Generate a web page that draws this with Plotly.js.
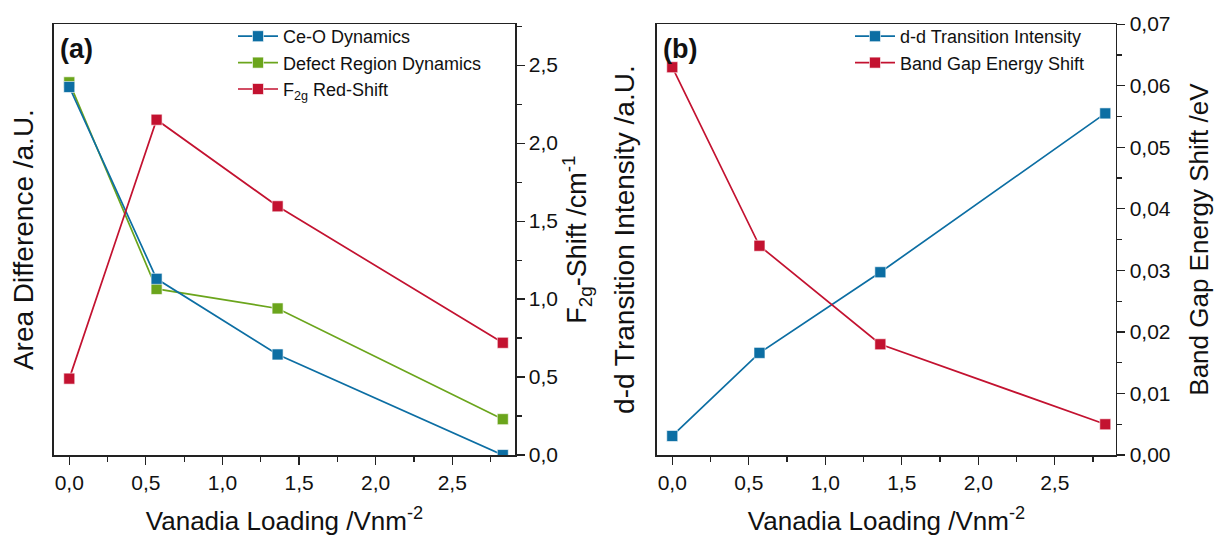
<!DOCTYPE html>
<html>
<head>
<meta charset="utf-8">
<script src="https://cdn.plot.ly/plotly-3.0.1.min.js"></script>
<style>html,body{margin:0;padding:0;background:#fff;}#chart{width:1215px;height:536px;}</style>
</head>
<body>
<div id="chart"></div>
<script>
// Data
const loading = [0, 0.57, 1.36, 2.83];
const ceoDynamics = [2.36, 1.13, 0.645, 0.0];
const defectDynamics = [2.39, 1.065, 0.94, 0.23];
const f2gShift = [0.49, 2.15, 1.595, 0.72];
const ddIntensity = [0.0031, 0.0166, 0.0297, 0.0555];
const bandGapShift = [0.063, 0.034, 0.018, 0.005];

const seriesNames = {
  ceo: 'Ce-O Dynamics',
  defect: 'Defect Region Dynamics',
  f2g: 'F<sub>2g</sub> Red-Shift',
  dd: 'd-d Transition Intensity',
  bg: 'Band Gap Energy Shift'
};

const BLUE = '#0C6EA3', GREEN = '#6BA51C', RED = '#C31230';
const FONT = 'Liberation Sans, Arial, sans-serif';

function tr(x, y, name, color, xa, ya, legend, rank) {
  return {
    x: x, y: y, name: name, type: 'scatter', mode: 'lines+markers',
    xaxis: xa, yaxis: ya, legend: legend, legendrank: rank,
    line: {color: color, width: 1.7},
    marker: {symbol: 'square', size: 11, color: color, line: {color: 'rgba(255,255,255,0.6)', width: 1}}
  };
}

const data = [
  tr(loading, defectDynamics, seriesNames.defect, GREEN, 'x', 'y', 'legend', 2),
  tr(loading, ceoDynamics, seriesNames.ceo, BLUE, 'x', 'y', 'legend', 1),
  tr(loading, f2gShift, seriesNames.f2g, RED, 'x', 'y2', 'legend', 3),
  tr(loading, ddIntensity, seriesNames.dd, BLUE, 'x2', 'y3', 'legend2', 1),
  tr(loading, bandGapShift, seriesNames.bg, RED, 'x2', 'y4', 'legend2', 2)
];

const tickFont = {family: FONT, size: 21, color: '#111'};
const xTitleFont = {family: FONT, size: 26, color: '#111'};
const yTitleFont = {family: FONT, size: 27, color: '#111'};

const xBase = {
  showline: true, linecolor: '#222', linewidth: 1.5, mirror: true,
  ticks: 'outside', ticklen: 8, tickwidth: 1.2, tickcolor: '#222',
  dtick: 0.5, tick0: 0, tickformat: '.1f',
  minor: {ticks: 'outside', ticklen: 5, dtick: 0.25, tick0: 0, tickcolor: '#222', tickwidth: 1.2},
  showgrid: false, zeroline: false, tickfont: tickFont,
  title: {text: 'Vanadia Loading /Vnm<sup>-2</sup>', font: xTitleFont, standoff: 20}
};

const rBase = {
  showline: true, linecolor: '#222', linewidth: 1.5,
  ticks: 'outside', ticklen: 8, tickwidth: 1.2, tickcolor: '#222',
  showgrid: false, zeroline: false, tickfont: tickFont
};

const layout = {
  width: 1215, height: 536,
  margin: {l: 0, r: 0, t: 0, b: 0},
  paper_bgcolor: '#fff', plot_bgcolor: '#fff',
  separators: ',.',
  font: {family: FONT, color: '#111'},
  xaxis: Object.assign({}, xBase, {domain: [0.0444, 0.4239], range: [-0.1, 2.91], anchor: 'y'}),
  xaxis2: Object.assign({}, xBase, {domain: [0.5407, 0.9185], range: [-0.1, 2.9], anchor: 'y3'}),
  yaxis: {
    domain: [0.151, 0.955], range: [0, 2.763], anchor: 'x',
    showline: true, linecolor: '#222', linewidth: 1.5,
    showticklabels: false, ticks: '', showgrid: false, zeroline: false,
    title: {text: 'Area Difference /a.U.', font: {family: FONT, size: 28, color: '#111'}, standoff: 10}
  },
  yaxis2: Object.assign({}, rBase, {
    domain: [0.151, 0.955], range: [0, 2.763], overlaying: 'y', side: 'right', anchor: 'x',
    dtick: 0.5, tick0: 0, tickformat: '.1f',
    minor: {ticks: 'outside', ticklen: 5, dtick: 0.25, tick0: 0, tickcolor: '#222', tickwidth: 1.2},
    title: {text: 'F<sub>2g</sub>-Shift /cm<sup>-1</sup>', font: yTitleFont, standoff: 6}
  }),
  yaxis3: {
    domain: [0.151, 0.955], range: [0, 0.07], anchor: 'x2',
    showline: true, linecolor: '#222', linewidth: 1.5,
    showticklabels: false, ticks: '', showgrid: false, zeroline: false,
    title: {text: 'd-d Transition Intensity /a.U.', font: {family: FONT, size: 28, color: '#111'}, standoff: 12}
  },
  yaxis4: Object.assign({}, rBase, {
    domain: [0.151, 0.955], range: [0, 0.07], overlaying: 'y3', side: 'right', anchor: 'x2',
    dtick: 0.01, tick0: 0, tickformat: '.2f',
    minor: {ticks: 'outside', ticklen: 5, dtick: 0.005, tick0: 0, tickcolor: '#222', tickwidth: 1.2},
    title: {text: 'Band Gap Energy Shift /eV', font: {family: FONT, size: 26, color: '#111'}, standoff: 20}
  }),
  legend: {
    x: 233 / 1215, y: 0.9664, xanchor: 'left', yanchor: 'top',
    bgcolor: 'rgba(0,0,0,0)', font: {family: FONT, size: 18, color: '#111'},
    tracegroupgap: 0, itemwidth: 40, traceorder: 'normal'
  },
  legend2: {
    x: 850 / 1215, y: 0.9664, xanchor: 'left', yanchor: 'top',
    bgcolor: 'rgba(0,0,0,0)', font: {family: FONT, size: 18, color: '#111'},
    tracegroupgap: 0, itemwidth: 40, traceorder: 'normal'
  },
  annotations: [
    {text: '<b>(a)</b>', xref: 'paper', yref: 'paper', x: 58 / 1215, y: 0.9095, xanchor: 'left', yanchor: 'middle', showarrow: false, font: {family: FONT, size: 27, color: '#111'}},
    {text: '<b>(b)</b>', xref: 'paper', yref: 'paper', x: 661 / 1215, y: 0.9095, xanchor: 'left', yanchor: 'middle', showarrow: false, font: {family: FONT, size: 27, color: '#111'}}
  ]
};

Plotly.newPlot('chart', data, layout, {displayModeBar: false, staticPlot: true});
</script>
</body>
</html>
